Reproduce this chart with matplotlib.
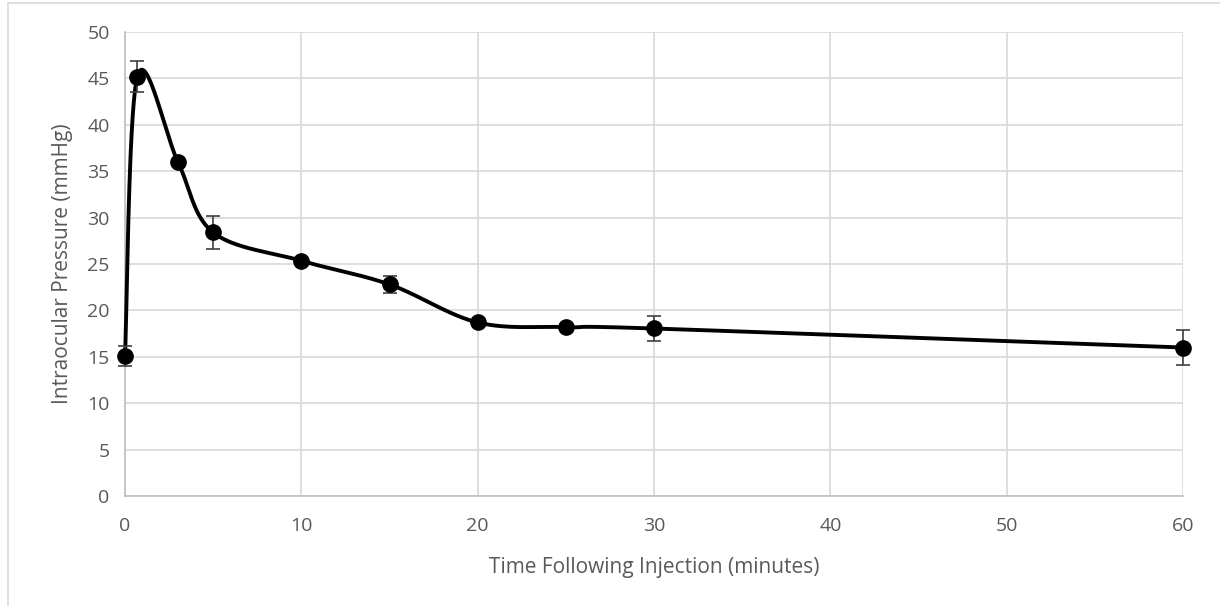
import numpy as np
import matplotlib
matplotlib.use("Agg")
import matplotlib.pyplot as plt
from matplotlib.patches import Rectangle

# Data
time_min = [0, 0.7, 3, 5, 10, 15, 20, 25, 30, 60]
iop_mmhg = [15.1, 45.2, 36.0, 28.4, 25.35, 22.8, 18.7, 18.2, 18.05, 16.0]
iop_err = [1.05, 1.7, 0.3, 1.75, 0.3, 0.95, 0.3, 0.3, 1.3, 1.9]

x_ticks = [0, 10, 20, 30, 40, 50, 60]
y_ticks = [0, 5, 10, 15, 20, 25, 30, 35, 40, 45, 50]

TEXT_COL = "#595959"
GRID_COL = "#D9D9D9"
AXIS_COL = "#BFBFBF"
FONT = ["Open Sans", "DejaVu Sans"]


def smooth_curve(xs, ys, sx, sy, n=60):
    """Excel-like smoothed line: Bezier segments with Catmull-Rom handles,
    computed in screen-proportional space (sx, sy = px per data unit)."""
    P = np.column_stack([np.asarray(xs) * sx, np.asarray(ys) * sy])
    out = []
    for i in range(len(P) - 1):
        p0 = P[i - 1] if i > 0 else P[i]
        p1 = P[i]
        p2 = P[i + 1]
        p3 = P[i + 2] if i + 2 < len(P) else P[i + 1]
        c1 = p1 + (p2 - p0) / 6.0
        c2 = p2 - (p3 - p1) / 6.0
        t = np.linspace(0, 1, n)[:, None]
        seg = ((1 - t) ** 3) * p1 + 3 * ((1 - t) ** 2) * t * c1 \
            + 3 * (1 - t) * t ** 2 * c2 + t ** 3 * p2
        out.append(seg if i == 0 else seg[1:])
    pts = np.vstack(out)
    return pts[:, 0] / sx, pts[:, 1] / sy


fig = plt.figure(figsize=(12.2, 6.06), dpi=100)
ax = fig.add_axes([125 / 1220, 1 - 496 / 606, (1183 - 125) / 1220, (496 - 32) / 606])

# chart-area border (light grey)
fig.patches.append(Rectangle((8 / 1220, -0.01), 1.2, 1 - 3 / 606 + 0.01,
                             transform=fig.transFigure, fill=False,
                             edgecolor="#D9D9D9", linewidth=1.2))

ax.set_xlim(0, 60)
ax.set_ylim(0, 50)
ax.set_xticks(x_ticks)
ax.set_yticks(y_ticks)
ax.grid(True, color=GRID_COL, linewidth=1.2)
ax.set_axisbelow(True)
for side in ["top", "right"]:
    ax.spines[side].set_visible(False)
for side in ["left", "bottom"]:
    ax.spines[side].set_color(AXIS_COL)
    ax.spines[side].set_linewidth(1.2)
ax.tick_params(length=0, pad=11, labelsize=14, colors=TEXT_COL)
for lbl in ax.get_xticklabels() + ax.get_yticklabels():
    lbl.set_family(FONT)
ax.tick_params(axis="x", pad=15)

sx = (1183 - 125) / 60.0
sy = (496 - 32) / 50.0
cx, cy = smooth_curve(time_min, iop_mmhg, sx, sy)
ax.plot(cx, cy, color="black", linewidth=2.8, zorder=3, clip_on=False)
ax.errorbar(time_min, iop_mmhg, yerr=iop_err, fmt="none", ecolor="#404040",
            elinewidth=1.2, capsize=5, capthick=1.2, zorder=4, clip_on=False)
ax.plot(time_min, iop_mmhg, "o", color="black", markersize=11, zorder=5,
        clip_on=False)

ax.set_xlabel("Time Following Injection (minutes)", fontsize=15,
              color=TEXT_COL, family=FONT, labelpad=16)
ax.set_ylabel("Intraocular Pressure (mmHg)", fontsize=15,
              color=TEXT_COL, family=FONT, labelpad=10)

fig.savefig("out.png", dpi=100, facecolor="white")
